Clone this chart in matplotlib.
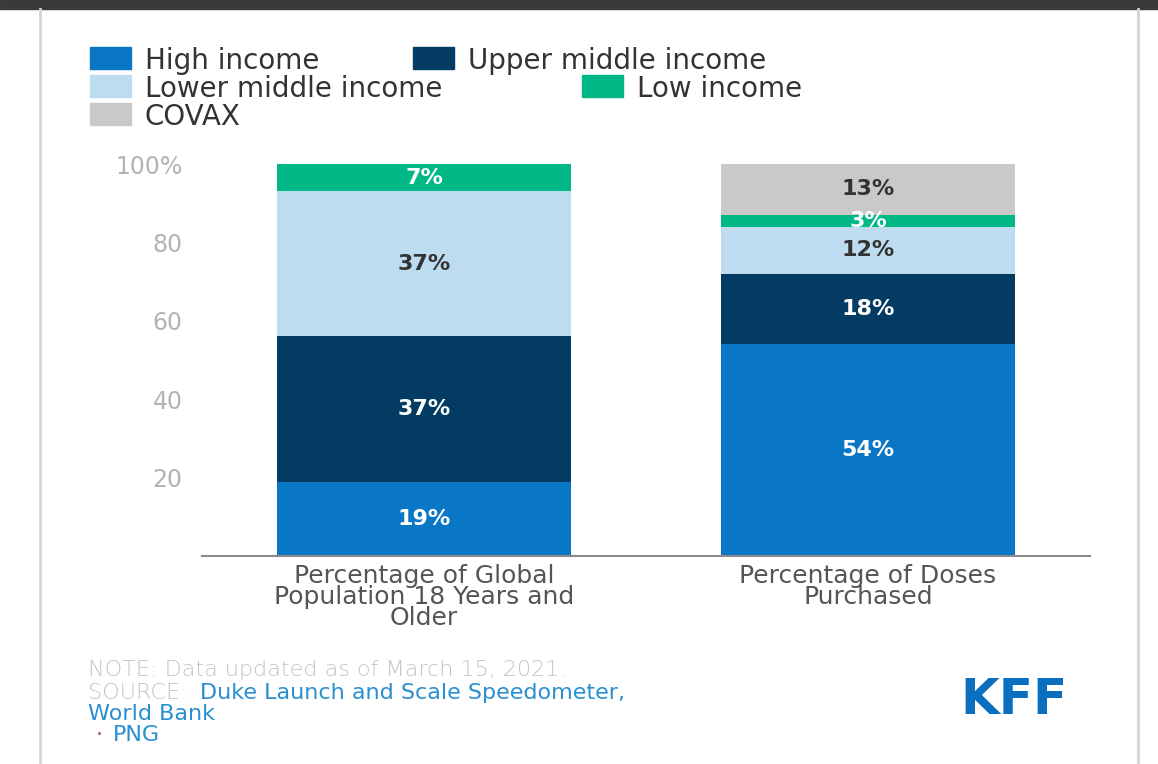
import numpy as np
import matplotlib.pyplot as plt
from matplotlib.patches import Rectangle

W, H = 1158, 764

categories = ["Percentage of Global\nPopulation 18 Years and\nOlder",
              "Percentage of Doses\nPurchased"]
groups = ["High income", "Upper middle income", "Lower middle income",
          "Low income", "COVAX"]
colors = ["#0a76c6", "#033b63", "#bedcf0", "#00b886", "#c9c9c9"]
label_colors = ["white", "white", "#333333", "white", "#333333"]

# share (%) of each income group, one value per category
high = [19, 54]
upper = [37, 18]
lower = [37, 12]
low = [7, 3]
covax = [0, 13]
series = [high, upper, lower, low, covax]

yticks = [20, 40, 60, 80, 100]
ytick_labels = ["20", "40", "60", "80", "100%"]

note = "NOTE: Data updated as of March 15, 2021."
source_lead = "SOURCE:"
source_1 = "Duke Launch and Scale Speedometer,"
source_2 = "World Bank"


def fx(px):
    return px / W


def fy(py):
    return 1 - py / H


plt.rcParams['font.family'] = ['DejaVu Sans']
fig = plt.figure(figsize=(W / 100, H / 100), dpi=100)
fig.patch.set_facecolor("white")

# frame bits of the screenshot
fig.patches.append(Rectangle((0, fy(9)), 1, fy(0) - fy(9), transform=fig.transFigure,
                             color="#3a3a3a", zorder=0))
fig.add_artist(plt.Line2D([fx(40), fx(40)], [0, fy(9)], color="#d4d4d4", lw=2))
fig.add_artist(plt.Line2D([fx(1138), fx(1138)], [0, fy(9)], color="#d4d4d4", lw=2))

ax = fig.add_axes([fx(202), fy(556), fx(1090) - fx(202), fy(164) - fy(556)])
x = np.arange(len(categories))
bottom = np.zeros(len(categories))
for vals, c, tc in zip(series, colors, label_colors):
    vals = np.array(vals, dtype=float)
    ax.bar(x, vals, 0.662, bottom=bottom, color=c, linewidth=0, zorder=2)
    for xi, v, b in zip(x, vals, bottom):
        if v > 0:
            ax.text(xi, b + v / 2, "%d%%" % v, ha="center", va="center",
                    color=tc, fontsize=16, fontweight="bold", zorder=3)
    bottom += vals

ax.set_xlim(-0.5, 1.5)
ax.set_ylim(0, 100)
for s in ["top", "right", "left"]:
    ax.spines[s].set_visible(False)
ax.spines["bottom"].set_color("#8a8a8a")
ax.spines["bottom"].set_linewidth(1.5)
ax.spines["bottom"].set_zorder(4)

ax.set_yticks(yticks)
ax.set_yticklabels(ytick_labels)
ax.tick_params(axis="y", length=0, pad=14, labelsize=17, labelcolor="#b3b3b3")
ax.set_xticks(x)
ax.set_xticklabels(categories, fontsize=18, color="#555555", linespacing=0.86)
ax.tick_params(axis="x", length=0, pad=5.5)

# legend laid out like the original, in rows
leg_pos = [(90, 58), (413, 58), (90, 86), (582, 86), (90, 114)]
for (px, py), g, c in zip(leg_pos, groups, colors):
    fig.patches.append(Rectangle((fx(px), fy(py + 10.5)), fx(41), 21 / H,
                                 transform=fig.transFigure, color=c))
    fig.text(fx(px + 55), fy(py), g, fontsize=20, color="#333333",
             ha="left", va="center_baseline")

# footnotes
fig.text(fx(88), fy(668), note, fontsize=16, color="#c4c4c4", va="center_baseline",
         fontweight="light")
fig.text(fx(88), fy(691), source_lead, fontsize=16, color="#c4c4c4", va="center_baseline",
         fontweight="light")
fig.text(fx(200), fy(691), source_1, fontsize=16, color="#2a8fd0", va="center_baseline")
fig.text(fx(88), fy(712), source_2, fontsize=16, color="#2a8fd0", va="center_baseline")
fig.text(fx(96), fy(733), "\u00b7", fontsize=16, color="#8a5a40", va="center_baseline")
fig.text(fx(113), fy(733), "PNG", fontsize=16, color="#2a8fd0", va="center_baseline")

fig.text(fx(1014), fy(700), "KFF", fontsize=36, fontweight="heavy", color="#0b6fbf",
         ha="center", va="center")

fig.savefig("out.png", dpi=100, facecolor="white")
